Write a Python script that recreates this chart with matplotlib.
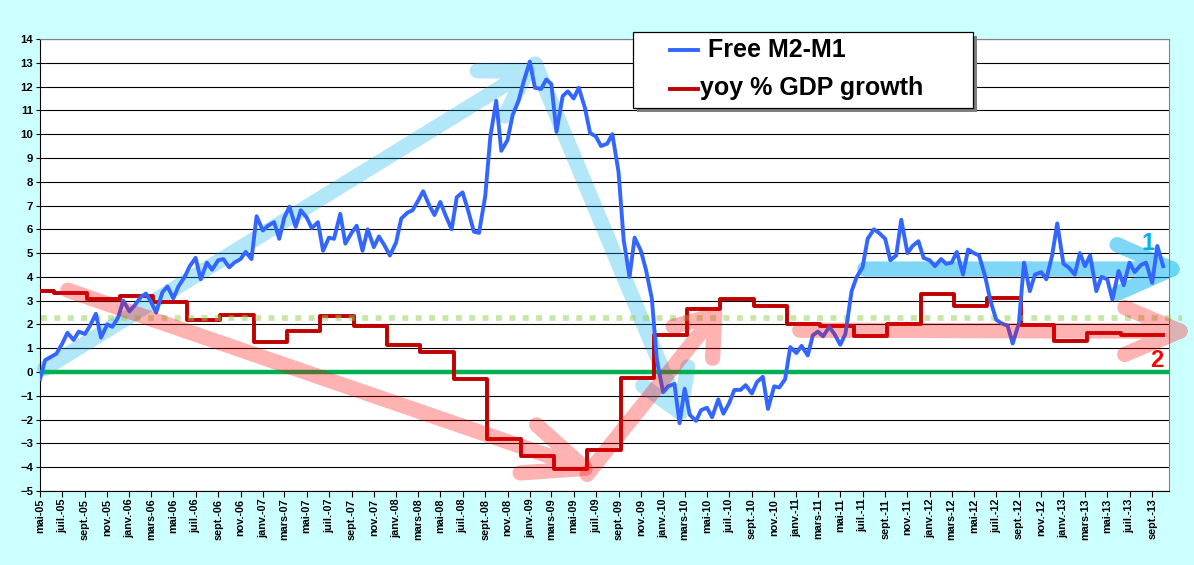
import numpy as np
import pandas as pd
import matplotlib
matplotlib.use('Agg')
import matplotlib.pyplot as plt
import matplotlib.dates as mdates
from matplotlib.patches import Rectangle
from matplotlib.lines import Line2D

plt.rcParams['font.family'] = ['Liberation Sans', 'DejaVu Sans']
plt.rcParams['font.weight'] = 'bold'

# Free M2-M1, valeurs bimensuelles (1er et 15 du mois) depuis mai 2005
m2m1 = [-0.3, 0.5, 0.65, 0.77, 1.2, 1.65, 1.35, 1.7, 1.6, 1.95,
        2.45, 1.45, 2.0, 1.9, 2.3, 3.0, 2.55, 2.8, 3.15, 3.3,
        2.95, 2.5, 3.35, 3.6, 3.1, 3.6, 4.0, 4.45, 4.8, 3.9,
        4.6, 4.3, 4.7, 4.75, 4.4, 4.6, 4.75, 5.05, 4.75, 6.55,
        5.95, 6.15, 6.3, 5.6, 6.5, 6.95, 6.1, 6.8, 6.5, 6.05,
        6.3, 5.1, 5.65, 5.6, 6.65, 5.4, 5.85, 6.15, 5.1, 6.0,
        5.25, 5.7, 5.3, 4.9, 5.45, 6.45, 6.7, 6.8, 7.2, 7.6,
        7.0, 6.6, 7.15, 6.6, 6.0, 7.35, 7.55, 6.85, 5.9, 5.85,
        7.4, 9.9, 11.4, 9.3, 9.75, 10.8, 11.4, 12.2, 13.05, 11.95,
        11.9, 12.3, 12.1, 10.1, 11.6, 11.8, 11.5, 11.95, 11.1, 10.05,
        9.9, 9.5, 9.6, 10.0, 8.4, 5.55, 4.0, 5.65, 5.1, 4.3,
        3.1, 0.5, -0.85, -0.6, -0.5, -2.15, -0.7, -1.8, -2.05, -1.6,
        -1.5, -1.9, -1.15, -1.75, -1.3, -0.75, -0.75, -0.55, -0.9, -0.42,
        -0.2, -1.55, -0.6, -0.65, -0.3, 1.05, 0.8, 1.1, 0.7, 1.55,
        1.7, 1.5, 1.9, 1.6, 1.15, 1.6, 3.4, 4.0, 4.4, 5.6,
        6.0, 5.85, 5.6, 4.7, 4.9, 6.4, 5.0, 5.3, 5.5, 4.8,
        4.7, 4.45, 4.75, 4.55, 4.6, 5.05, 4.1, 5.15, 5.0, 4.9,
        4.0, 3.0, 2.2, 2.05, 1.95, 1.2, 2.05, 4.6, 3.4, 4.1,
        4.2, 3.9, 4.9, 6.25, 4.55, 4.4, 4.1, 5.0, 4.45, 4.9,
        3.4, 4.0, 3.9, 3.05, 4.25, 3.65, 4.6, 4.2, 4.5, 4.6,
        3.75, 5.3, 4.45]
dates_m2m1 = pd.date_range('2005-05-01', periods=len(m2m1), freq='SMS')

# croissance PIB en glissement annuel (valeur trimestrielle, en escalier)
pib = [3.4, 3.32, 3.05, 3.18, 2.93, 2.17, 2.41, 1.26, 1.72, 2.34,
       1.92, 1.15, 0.84, -0.28, -2.8, -3.54, -4.06, -3.29, -0.24, 1.56,
       2.67, 3.06, 2.78, 2.0, 1.92, 1.5, 2.04, 3.3, 2.78, 3.13,
       1.96, 1.29, 1.66, 1.54]
changements = pd.date_range('2005-06-01', periods=len(pib) - 1, freq='3MS') + pd.Timedelta(days=6)
dates_pib = [pd.Timestamp('2005-05-01')] + list(changements) + [dates_m2m1[-1]]
pib_plot = pib + [pib[-1]]

niveau_moyen = 2.27

mois_fr = {1: 'janv.', 3: 'mars', 5: 'mai', 7: 'juil.', 9: 'sept.', 11: 'nov.'}
ticks = pd.date_range('2005-05-01', '2013-09-01', freq='2MS')
tick_labels = [f"{mois_fr[d.month]}-{d.strftime('%y')}" for d in ticks]

W, H = 1194, 565
fig = plt.figure(figsize=(W / 100, H / 100), dpi=100, facecolor='#ccffff')
ax = fig.add_axes([40 / W, 1 - 491 / H, (1169 - 40) / W, (491 - 39) / H])
ax.set_facecolor('white')

ax.set_xlim(pd.Timestamp('2005-05-01'), pd.Timestamp('2013-10-17'))
ax.set_ylim(-5, 14)
ax.set_yticks(range(-5, 15))
ax.set_xticks(ticks)
ax.set_xticklabels(tick_labels, rotation=90, fontsize=7.8, fontweight='bold')
ax.tick_params(axis='y', labelsize=8.2, length=3, width=0.8, pad=2)
ax.tick_params(axis='x', length=4, width=0.8, pad=1.5)
ax.yaxis.grid(True, color='black', lw=0.8)
ax.set_axisbelow(True)
for s in ['left', 'bottom']:
    ax.spines[s].set_color('black')
    ax.spines[s].set_linewidth(0.8)
for s in ['top', 'right']:
    ax.spines[s].set_color('#808080')
    ax.spines[s].set_linewidth(0.8)


def fleche(debut, fin, couleur, alpha, long_px, angle, z):
    p0 = ax.transData.transform((mdates.date2num(pd.Timestamp(debut[0])), debut[1]))
    p1 = ax.transData.transform((mdates.date2num(pd.Timestamp(fin[0])), fin[1]))
    d = (p0 - p1) / np.hypot(*(p0 - p1))
    pts = []
    for sgn in (1, -1):
        a = np.radians(angle) * sgn
        r = np.array([d[0] * np.cos(a) - d[1] * np.sin(a), d[0] * np.sin(a) + d[1] * np.cos(a)])
        pts.append(p1 + r * long_px)
    chemin = np.array([p0, p1, pts[0], [np.nan, np.nan], p1, pts[1]])
    ok = ~np.isnan(chemin[:, 0])
    dat = np.full_like(chemin, np.nan)
    dat[ok] = ax.transData.inverted().transform(chemin[ok])
    ax.plot(dat[:, 0], dat[:, 1], color=couleur, alpha=alpha, lw=11,
            solid_capstyle='round', solid_joinstyle='round', zorder=z, clip_on=False)


# flèches de tendance
fleche(('2005-05-14', 0.15), ('2008-12-25', 12.65), '#00b0f0', 0.3, 50, 32, 2)
fleche(('2009-01-16', 12.95), ('2010-02-17', -1.69), '#00b0f0', 0.3, 46, 32, 2)
fleche(('2011-07-07', 4.33), ('2013-10-25', 4.33), '#00b0f0', 0.5, 60, 24, 2)

ax.axhline(0, color='#00b050', lw=3.2, zorder=3)
ax.plot(dates_pib, pib_plot, drawstyle='steps-post', color='#c00000', lw=2.8, zorder=4)
ax.plot([pd.Timestamp('2005-05-04'), pd.Timestamp('2013-11-22')], [niveau_moyen, niveau_moyen],
        color='#92d050', alpha=0.5, lw=4.1, dashes=(1.05, 1.3), zorder=5, clip_on=False)
ax.plot(dates_m2m1, m2m1, color='#3366ff', lw=2.8, zorder=6)

fleche(('2005-07-16', 3.44), ('2009-06-01', -4.05), '#ff0000', 0.3, 65, 23, 7)
fleche(('2009-06-07', -4.3), ('2010-05-22', 2.39), '#ff0000', 0.3, 43, 36, 7)
fleche(('2011-01-10', 1.76), ('2013-11-16', 1.72), '#ff0000', 0.3, 60, 23, 7)

ax.text(pd.Timestamp('2013-08-22'), 5.42, '1', color='#00b0f0', fontsize=17,
        fontweight='bold', ha='center', va='center', zorder=8)
ax.text(pd.Timestamp('2013-09-13'), 0.5, '2', color='#ff0000', fontsize=17,
        fontweight='bold', ha='center', va='center', zorder=8)

# légende dessinée à la main (cadre Excel)
def fx(px):
    return px / W


def fy(py):
    return 1 - py / H


fig.patches.append(Rectangle((fx(637), fy(112)), fx(973) - fx(633), fy(32) - fy(108),
                             transform=fig.transFigure, facecolor='#7f7f7f', edgecolor='none', zorder=9))
fig.patches.append(Rectangle((fx(633), fy(108)), fx(973) - fx(633), fy(32) - fy(108),
                             transform=fig.transFigure, facecolor='white', edgecolor='black', lw=0.9, zorder=10))
fig.lines.append(Line2D([fx(670), fx(698)], [fy(50), fy(50)], transform=fig.transFigure,
                        color='#3366ff', lw=2.8, zorder=11))
fig.lines.append(Line2D([fx(670), fx(698)], [fy(89), fy(89)], transform=fig.transFigure,
                        color='#c00000', lw=2.8, zorder=11))
fig.text(fx(708), fy(50), 'Free M2-M1', fontsize=18, fontweight='bold', va='center', ha='left', zorder=12)
fig.text(fx(700), fy(88), 'yoy % GDP growth', fontsize=18, fontweight='bold', va='center', ha='left', zorder=12)

fig.savefig('out.png', dpi=100, facecolor=fig.get_facecolor())
